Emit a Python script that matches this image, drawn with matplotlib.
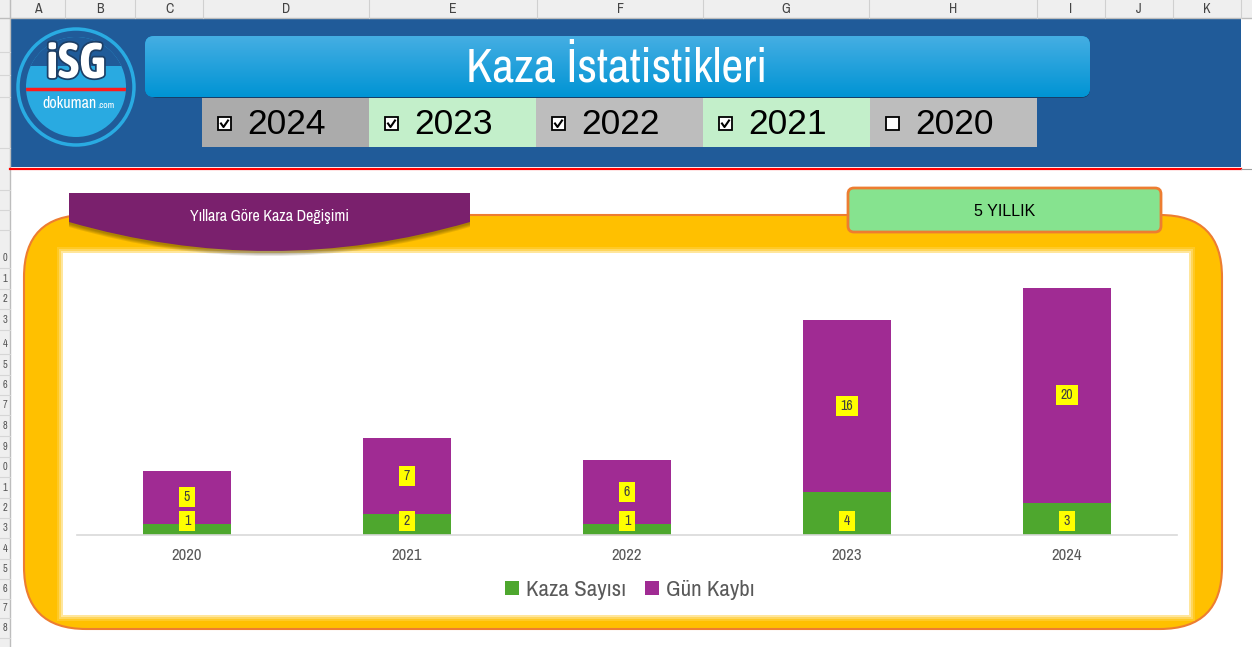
import matplotlib
matplotlib.use('Agg')
import matplotlib.pyplot as plt
import matplotlib.font_manager as fm
import numpy as np
from matplotlib.patches import Rectangle, FancyBboxPatch, Circle, PathPatch
from matplotlib.path import Path
import matplotlib.patheffects as pe

# chart data
years = ['2020', '2021', '2022', '2023', '2024']
kaza = [1, 2, 1, 4, 3]
gun = [5, 7, 6, 16, 20]

# year filter row in the header
filter_years = ['2024', '2023', '2022', '2021', '2020']
filter_checked = [True, True, True, True, False]

col_letters = ['A', 'B', 'C', 'D', 'E', 'F', 'G', 'H', 'I', 'J', 'K']
col_edges = [10, 65, 135, 203, 369, 537, 703, 869, 1037, 1105, 1173, 1241]

GREEN = '#4ea72e'
PURPLE = '#a02b93'


def find_narrow(bold=False):
    # look for a narrow / condensed face among the installed fonts
    want = 700 if bold else 400
    cands = []
    for f in fm.fontManager.ttflist:
        w = f.weight if isinstance(f.weight, int) else (700 if 'bold' in str(f.weight) else 400)
        if f.style != 'normal' or abs(w - want) > 100:
            continue
        if 'Narrow' in f.name or 'Condensed' in f.name:
            cands.append((0, f.fname))
        elif f.stretch in ('condensed', 'semi-condensed') and f.name == 'DejaVu Sans':
            cands.append((1, f.fname))
    cands.sort()
    return cands[0][1] if cands else None


NARROW_FILE = find_narrow()
NARROW_BOLD_FILE = find_narrow(True)


def nfont(size, bold=False):
    path = NARROW_BOLD_FILE if bold else NARROW_FILE
    if path:
        return fm.FontProperties(fname=path, size=size)
    return fm.FontProperties(family='DejaVu Sans', size=size * 0.85,
                             weight='bold' if bold else 'normal')


def label_box(x0, y0, width, height, mutation_size):
    # yellow data-label box: wider padding left/right than top/bottom
    px, py = 0.33 * mutation_size, 0.22 * mutation_size
    x0, y0 = x0 - px, y0 - py
    x1, y1 = x0 + width + 2 * px, y0 + height + 2 * py
    return Path([(x0, y0), (x1, y0), (x1, y1), (x0, y1), (x0, y0)], closed=True)


W, H = 1252, 647
fig = plt.figure(figsize=(W / 100, H / 100), dpi=100)
fig.patch.set_facecolor('white')

# background axes in pixel units (y down)
bg = fig.add_axes([0, 0, 1, 1])
bg.set_xlim(0, W)
bg.set_ylim(H, 0)
bg.axis('off')

# --- spreadsheet frame ---
bg.add_patch(Rectangle((0, 0), W, 18, fc='#efefef', ec='none'))
bg.plot([0, W], [18, 18], color='#bdbdbd', lw=1)
for x in col_edges:
    bg.plot([x, x], [0, 18], color='#d0d0d0', lw=0.8)
for i, c in enumerate(col_letters):
    bg.text((col_edges[i] + col_edges[i + 1]) / 2, 9, c, ha='center', va='center',
            color='#444444', fontproperties=nfont(10))
bg.add_patch(Rectangle((0, 18), 10, H - 18, fc='#efefef', ec='none'))
bg.plot([10, 10], [0, H], color='#bdbdbd', lw=1)
row_digits = list('0123456789012345678')
row_y = [258, 279, 299, 320, 344, 365, 385, 405, 426, 447, 467, 488, 508, 528, 549, 569, 589, 608, 628]
for d, y in zip(row_digits, row_y):
    bg.text(5, y, d, ha='center', va='center', color='#555555', fontproperties=nfont(7.5))
    bg.plot([0, 10], [y + 10, y + 10], color='#d6d6d6', lw=0.8)
for y in [52, 75, 97, 148, 190, 210, 230]:
    bg.plot([0, 10], [y, y], color='#d6d6d6', lw=0.8)

# --- header band ---
bg.add_patch(Rectangle((10, 18), 1231, 149, fc='#205b99', ec='none'))
bg.plot([10, 1241], [168.5, 168.5], color='#ff0000', lw=1.6)
bg.plot([1241, W], [169, 169], color='#a0a0a0', lw=0.8)

# logo
bg.add_patch(Circle((76, 87), 58, fc='none', ec='#29abe2', lw=2.5))
inner = Circle((76, 87), 50, fc='#29aae1', ec='none')
bg.add_patch(inner)
cap = Rectangle((20, 30), 112, 36, fc='#205b99', ec='none')
bg.add_patch(cap)
cap.set_clip_path(inner)
red, = bg.plot([20, 132], [89, 89], color='#ff1a1a', lw=2.5)
red.set_clip_path(inner)
bg.text(76, 64, 'iSG', ha='center', va='center', color='white',
        fontproperties=nfont(36, bold=True),
        path_effects=[pe.withStroke(linewidth=2.5, foreground='#1d3f66')])
bg.text(97, 103, 'dokuman', ha='right', va='center', color='white', fontproperties=nfont(11.5))
bg.text(97, 105, '.com', ha='left', va='center', color='white', fontproperties=nfont(7))

# title banner
bg.add_patch(FancyBboxPatch((148, 40), 942, 58, boxstyle='round,pad=0,rounding_size=9',
                            fc='black', ec='none', alpha=0.3))
banner = FancyBboxPatch((145, 36), 945, 61, boxstyle='round,pad=0,rounding_size=9',
                        fc='#0096d6', ec='none')
bg.add_patch(banner)
grad = np.linspace(0, 1, 100).reshape(-1, 1)
img = bg.imshow(grad, cmap=matplotlib.colors.LinearSegmentedColormap.from_list('b', ['#45aee3', '#0094d4']),
                extent=[145, 1090, 97, 36], aspect='auto', zorder=2)
img.set_clip_path(banner)
bg.text(617, 68, 'Kaza İstatistikleri', ha='center', va='center',
        color='white', fontproperties=nfont(34.5), zorder=3)

# year filter cells
cell_colors = ['#ababab', '#c3efca', '#bdbdbd', '#c3efca', '#bdbdbd']
for i, (yr, chk) in enumerate(zip(filter_years, filter_checked)):
    x0 = 202 + i * 167
    bg.add_patch(Rectangle((x0, 98), 167, 49, fc=cell_colors[i], ec='none', zorder=1))
    bx, by = x0 + 16, 117
    bg.add_patch(Rectangle((bx, by), 13, 13, fc='white', ec='black', lw=1.3, zorder=3))
    if chk:
        bg.plot([bx + 3, bx + 5.5, bx + 10], [by + 6.5, by + 10, by + 3.5],
                color='black', lw=1.5, zorder=4)
    bg.text(x0 + 45, 125, yr, ha='left', va='center', fontsize=25.5, color='black',
            family=['Liberation Sans', 'DejaVu Sans'], zorder=3)

# --- lower panel ---
bg.add_patch(FancyBboxPatch((24, 215), 1198, 414, boxstyle='round,pad=0,rounding_size=62',
                            fc='#ffc000', ec='#ed7d31', lw=1.5))
for k, a in enumerate([0.15, 0.25, 0.4]):
    g = 6 - 2 * k
    bg.add_patch(Rectangle((63 - g, 253 - g), 1126 + 2 * g, 362 + 2 * g, fc='white',
                           ec='none', alpha=a))
bg.add_patch(Rectangle((63, 253), 1126, 362, fc='white', ec='none'))


# purple tab with curved bottom
def tab_path(dx, dy):
    verts = [(69 + dx, 193 + dy), (470 + dx, 193 + dy), (470 + dx, 222 + dy),
             (270 + dx, 280 + dy), (69 + dx, 222 + dy), (69 + dx, 193 + dy)]
    codes = [Path.MOVETO, Path.LINETO, Path.LINETO, Path.CURVE3, Path.CURVE3, Path.CLOSEPOLY]
    return Path(verts, codes)


for d in [5, 4, 3, 2]:
    bg.add_patch(PathPatch(tab_path(0, d), fc='#3a2a00', ec='none', alpha=0.12))
bg.add_patch(PathPatch(tab_path(0, 0), fc='#7a206d', ec='none'))
bg.text(270, 217, 'Yıllara Göre Kaza Değişimi', ha='center', va='center',
        color='white', fontproperties=nfont(11.5))

# green box
bg.add_patch(FancyBboxPatch((848, 188), 313, 44, boxstyle='round,pad=0,rounding_size=6',
                            fc='#86e38f', ec='#ed7d31', lw=2))
bg.text(1005, 211, '5 YILLIK', ha='center', va='center', fontsize=11.5, color='black',
        family=['Liberation Sans', 'DejaVu Sans'])

# --- chart ---
left, right, top, base = 77, 1177, 266.5, 535
ax = fig.add_axes([left / W, (H - base) / H, (right - left) / W, (base - top) / H])
ax.patch.set_alpha(0)
x = np.arange(len(years))
ax.bar(x, kaza, width=0.4, color=GREEN, label='Kaza Sayısı')
ax.bar(x, gun, width=0.4, bottom=kaza, color=PURPLE, label='Gün Kaybı')
ax.set_xlim(-0.5, len(years) - 0.5)
ax.set_ylim(0, 25)
for s in ['top', 'left', 'right']:
    ax.spines[s].set_visible(False)
ax.spines['bottom'].set_color('#d9d9d9')
ax.spines['bottom'].set_linewidth(1.2)
ax.set_yticks([])
ax.set_xticks(x)
ax.set_xticklabels(years, color='#595959')
for lbl in ax.get_xticklabels():
    lbl.set_fontproperties(nfont(12))
ax.tick_params(axis='x', length=0, pad=9)

box = dict(boxstyle=label_box, fc='#ffff00', ec='none')
for i in x:
    ax.annotate(str(kaza[i]), xy=(i, 0), xytext=(0, 10), textcoords='offset points',
                ha='center', va='center', color='#404040',
                fontproperties=nfont(10), bbox=box)
    ax.text(i, kaza[i] + gun[i] / 2, str(gun[i]), ha='center', va='center',
            color='#404040', fontproperties=nfont(10), bbox=box)

fig.legend(loc='center', bbox_to_anchor=(630 / W, (H - 590) / H), ncol=2, frameon=False,
           prop=nfont(16.5), labelcolor='#595959',
           handlelength=0.6, handleheight=0.6, handletextpad=0.3, columnspacing=0.85)

fig.savefig('out.png', dpi=100)
